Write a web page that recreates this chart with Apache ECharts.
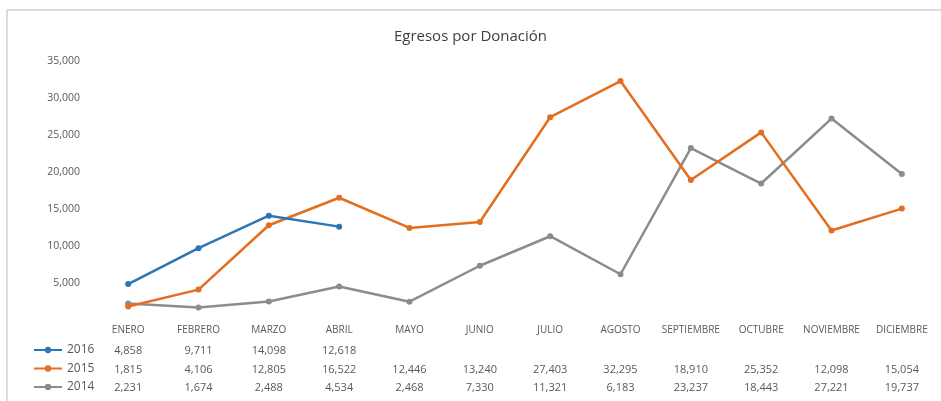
<!DOCTYPE html>
<html>
<head>
<meta charset="utf-8">
<script src="https://cdn.jsdelivr.net/npm/echarts@6/dist/echarts.min.js"></script>
<style>
  html, body { margin: 0; padding: 0; background: #fff; }
  #main { width: 941px; height: 401px; }
</style>
</head>
<body>
<div id="main"></div>
<script>
// meses
var meses = ['ENERO', 'FEBRERO', 'MARZO', 'ABRIL', 'MAYO', 'JUNIO', 'JULIO', 'AGOSTO', 'SEPTIEMBRE', 'OCTUBRE', 'NOVIEMBRE', 'DICIEMBRE'];
// egresos por año
var datos2016 = [4858, 9711, 14098, 12618, null, null, null, null, null, null, null, null];
var datos2015 = [1815, 4106, 12805, 16522, 12446, 13240, 27403, 32295, 18910, 25352, 12098, 15054];
var datos2014 = [2231, 1674, 2488, 4534, 2468, 7330, 11321, 6183, 23237, 18443, 27221, 19737];
// eje y
var yMax = 35000, yPaso = 5000;

var colores = { '2016': '#2E75B6', '2015': '#E56D1F', '2014': '#8C8C8C' };

// formato de la tabla
function fmt(v) {
  if (v === null || v === undefined) return '';
  return v.toLocaleString('en-US');
}

// eje de la tabla de datos (solo texto)
function filaTabla(datos, offset) {
  return {
    type: 'category',
    position: 'bottom',
    gridIndex: 0,
    offset: offset,
    data: datos.map(fmt),
    axisLine: { show: false },
    axisTick: { show: false },
    axisLabel: { interval: 0, color: '#595959', fontSize: 11, margin: 5 },
    splitLine: { show: false }
  };
}

function serie(nombre, datos) {
  return {
    name: nombre,
    type: 'line',
    xAxisIndex: 0,
    data: datos,
    symbol: 'circle',
    symbolSize: 6,
    lineStyle: { width: 2.5, color: colores[nombre] },
    itemStyle: { color: colores[nombre] }
  };
}

var chart = echarts.init(document.getElementById('main'));
chart.setOption({
  animation: false,
  backgroundColor: '#fff',
  textStyle: { fontFamily: 'Open Sans, Noto Sans, sans-serif' },
  title: {
    text: 'Egresos por Donación',
    left: 'center',
    top: 24,
    textStyle: { fontSize: 15, fontWeight: 'normal', color: '#404040' }
  },
  legend: {
    data: ['2016', '2015', '2014'],
    orient: 'vertical',
    left: 33,
    top: 344,
    height: 60,
    padding: 0,
    itemWidth: 28,
    itemHeight: 8,
    itemGap: 6.5,
    textStyle: { color: '#595959', fontSize: 12 }
  },
  graphic: [
    { type: 'line', shape: { x1: 7, y1: 10, x2: 7, y2: 401 }, style: { stroke: '#d0d0d0', lineWidth: 1.5 } },
    { type: 'line', shape: { x1: 7, y1: 10, x2: 941, y2: 10 }, style: { stroke: '#d0d0d0', lineWidth: 1.5 } }
  ],
  grid: { left: 93, right: 4, top: 61, bottom: 81 },
  xAxis: [
    {
      type: 'category',
      data: meses,
      boundaryGap: true,
      axisLine: { show: false },
      axisTick: { show: false },
      axisLabel: { interval: 0, color: '#595959', fontSize: 10, margin: 5 }
    },
    filaTabla(datos2016, 20),
    filaTabla(datos2015, 39),
    filaTabla(datos2014, 57)
  ],
  yAxis: {
    type: 'value',
    min: 0,
    max: yMax,
    interval: yPaso,
    axisLine: { show: false },
    axisTick: { show: false },
    splitLine: { show: false },
    axisLabel: {
      showMinLabel: false,
      color: '#595959',
      fontSize: 10.5,
      margin: 13,
      formatter: function (v) { return v.toLocaleString('en-US'); }
    }
  },
  series: [
    serie('2014', datos2014),
    serie('2015', datos2015),
    serie('2016', datos2016)
  ]
});
</script>
</body>
</html>
